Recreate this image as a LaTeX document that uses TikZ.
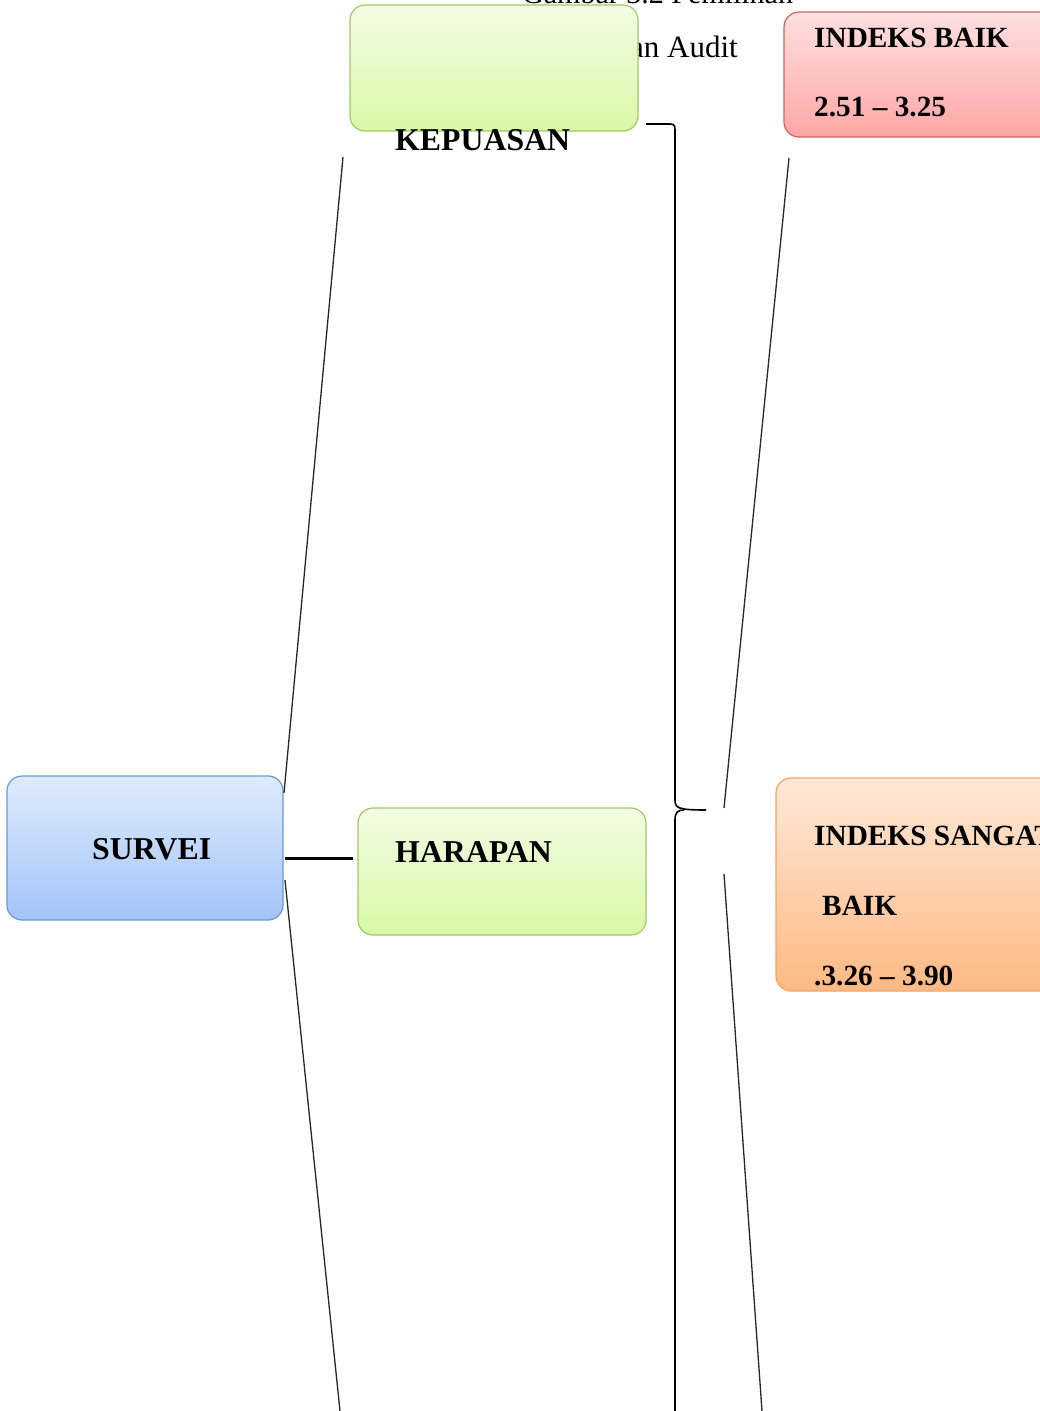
\documentclass[tikz,border=0pt]{standalone}
\usepackage{fontspec}
\setmainfont{Liberation Serif}
\begin{document}
\begin{tikzpicture}[x=1pt,y=-1pt,
  box/.style={rounded corners=15pt,line width=1.2pt},
  lbl/.style={anchor=base west,inner sep=0pt,font=\fontsize{31.8}{32}\selectfont\bfseries},
  lbs/.style={anchor=base west,inner sep=0pt,font=\fontsize{29.3}{30}\selectfont\bfseries},
  plain/.style={anchor=base west,inner sep=0pt,font=\fontsize{30}{30}\selectfont},
  conn/.style={line width=1.3pt,draw=black!85}]
\definecolor{gfTop}{HTML}{F2FCE4}
\definecolor{gfBot}{HTML}{D8F9A6}
\definecolor{gBorder}{HTML}{A3C766}
\definecolor{rTop}{HTML}{FFE0E0}
\definecolor{rBot}{HTML}{FFA6A6}
\definecolor{rBorder}{HTML}{D46060}
\definecolor{bTop}{HTML}{DFEBFD}
\definecolor{bBot}{HTML}{A3C4F8}
\definecolor{bBorder}{HTML}{6A98D6}
\definecolor{oTop}{HTML}{FFE8D8}
\definecolor{oBot}{HTML}{FDB983}
\definecolor{oBorder}{HTML}{F3A466}
\useasboundingbox (0,0) rectangle (1040,1411);
\clip (0,0) rectangle (1040,1411);
% background caption text (partly hidden)
\node[plain] (cap1) at (522,3) {Gambar 3.2 Pemilihan};
\node[plain,anchor=base east,font=\fontsize{31}{31}\selectfont] (cap2) at (738,57) {Tujuan Audit};
% boxes
\draw[box,draw=gBorder,top color=gfTop,bottom color=gfBot] (350,5) rectangle (638,131);
\node[inner sep=0pt] (kep) at (494,68) {};
\draw[box,draw=rBorder,top color=rTop,bottom color=rBot] (784,12) rectangle (1070,137);
\node[inner sep=0pt] (baik) at (900,75) {};
\draw[box,draw=bBorder,top color=bTop,bottom color=bBot] (7,776) rectangle (283,920);
\node[inner sep=0pt] (survei) at (145,848) {};
\draw[box,draw=gBorder,top color=gfTop,bottom color=gfBot] (358,808) rectangle (646,935);
\node[inner sep=0pt] (harapan) at (502,871) {};
\draw[box,draw=oBorder,top color=oTop,bottom color=oBot] (776,778) rectangle (1080,991);
\node[inner sep=0pt] (sangat) at (900,884) {};
% labels
\node[lbl] (tkep) at (395,150) {KEPUASAN};
\node[lbs] (tbaik1) at (814,47) {INDEKS BAIK};
\node[lbs] (tbaik2) at (814,116) {2.51 – 3.25};
\node[lbl] (tsurvei) at (92,859) {SURVEI};
\node[lbl] (tharapan) at (395,862) {HARAPAN};
\node[lbs] (tsg1) at (814,845) {INDEKS SANGAT};
\node[lbs] (tsg2) at (822,915) {BAIK};
\node[lbs] (tsg3) at (814,985) {.3.26 – 3.90};
% connectors
\coordinate (s1) at (284,793);
\coordinate (k1) at (343,157);
\coordinate (s2) at (285,880);
\coordinate (d1) at (340,1411);
\draw[conn] (s1) -- (k1);
\draw[conn] (s2) -- (d1);
\coordinate (s3) at (285,858);
\coordinate (h1) at (353,858);
\draw[line width=3pt] (s3) -- (h1);
% bracket
\coordinate (b0) at (646,124);
\coordinate (tip) at (706,810);
\coordinate (bb) at (675,1411);
\draw[line width=1.6pt] (b0) -- (670,124) .. controls (675,124) and (675,126) .. (675,132) -- (675,800) .. controls (675,808) and (678,810) .. (tip);
\draw[line width=1.6pt] (bb) -- (675,820) .. controls (675,812) and (678,810) .. (684,810);
% right lines
\coordinate (r1) at (724,808);
\coordinate (r2) at (789,158);
\coordinate (r3) at (724,874);
\coordinate (r4) at (762,1411);
\draw[conn] (r1) -- (r2);
\draw[conn] (r3) -- (r4);
\end{tikzpicture}
\end{document}
